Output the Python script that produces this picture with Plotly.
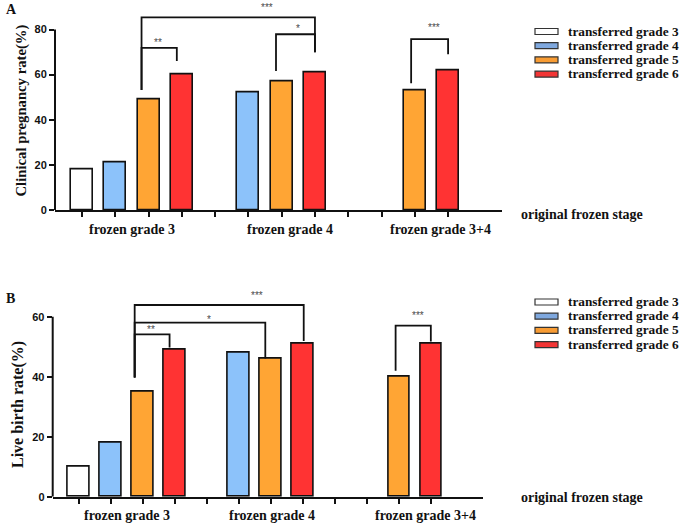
import plotly.graph_objects as go

# ---------------- data ----------------
groups = ["frozen grade 3", "frozen grade 4", "frozen grade 3+4"]
series = ["transferred grade 3", "transferred grade 4", "transferred grade 5", "transferred grade 6"]

cpr_t3 = [18, None, None]
cpr_t4 = [21, 52, None]
cpr_t5 = [49, 57, 53]
cpr_t6 = [60, 61, 62]

lbr_t3 = [10, None, None]
lbr_t4 = [18, 48, None]
lbr_t5 = [35, 46, 40]
lbr_t6 = [49, 51, 51]

yticks_top = [0, 20, 40, 60, 80]
yticks_bot = [0, 20, 40, 60]

# ---------------- style ----------------
bar_colors = ["#ffffff", "#8cc2fa", "#ffa534", "#ff3333"]
legend_colors = ["#ffffff", "#7fa8de", "#f89c34", "#f23535"]
SERIF = "Liberation Serif, Times New Roman, serif"
SANS = "Liberation Sans, Arial, sans-serif"
W, H = 685, 527
FS = 14      # category / axis-end labels
FS_LEG = 13.3

fig = go.Figure()

top_vals = [cpr_t3, cpr_t4, cpr_t5, cpr_t6]
bot_vals = [lbr_t3, lbr_t4, lbr_t5, lbr_t6]
n_s = len(series)

for panel, vals, xa, ya in [(0, top_vals, "x", "y"), (1, bot_vals, "x2", "y2")]:
    for si, s in enumerate(series):
        xs, ys = [], []
        for gi, v in enumerate(vals[si]):
            if v is not None:
                xs.append(gi * n_s + si)
                ys.append(v)
        fig.add_trace(go.Bar(
            x=xs, y=ys, name=s, width=0.66, xaxis=xa, yaxis=ya,
            marker=dict(color=bar_colors[si], line=dict(color="#111111", width=1.6)),
            showlegend=False,
        ))

xr = [-0.81, 12.62]
slot_ticks = list(range(len(groups) * n_s))
common_x = dict(range=xr, tickvals=slot_ticks, showticklabels=False, ticks="outside",
                ticklen=5, tickwidth=1.6, tickcolor="#111", showline=True, linewidth=2,
                linecolor="#111", showgrid=False, zeroline=False, fixedrange=True,
                automargin=False)
common_y = dict(ticks="outside", ticklen=5, tickwidth=2, tickcolor="#111", showline=False,
                showgrid=False, zeroline=False, automargin=False,
                tickfont=dict(family=SANS, size=11, color="#111", weight="bold"))

fig.update_layout(
    width=W, height=H, margin=dict(l=0, r=0, t=0, b=0, autoexpand=False),
    paper_bgcolor="white", plot_bgcolor="white", bargap=0,
    xaxis=dict(domain=[55 / W, 502 / W], anchor="y", **common_x),
    yaxis=dict(domain=[1 - 210 / H, 1 - 2.45 / H], range=[0, 92], tickvals=yticks_top,
               anchor="x", **common_y),
    xaxis2=dict(domain=[52.7 / W, 482.7 / W], anchor="y2", **common_x),
    yaxis2=dict(domain=[1 - 496.7 / H, 1 - 286.7 / H], range=[0, 70], tickvals=yticks_bot,
                anchor="x2", **common_y),
)

shapes = []
annots = []

# y axis lines ending at last tick
shapes.append(dict(type="line", xref="x domain", yref="y", x0=0, x1=0, y0=0, y1=yticks_top[-1],
                   line=dict(color="#111", width=2)))
shapes.append(dict(type="line", xref="x2 domain", yref="y2", x0=0, x1=0, y0=0, y1=yticks_bot[-1],
                   line=dict(color="#111", width=2)))

# significance brackets: (x_left, x_right, y_horizontal, y_left_bottom, y_right_bottom, label, lx, ly)
brackets_top = [
    (1.79, 2.85, 71.9, 53.2, 66.0, "**", 2.28, 74.3),
    (1.79, 7.0, 85.4, 53.2, 69.9, "***", 5.56, 89.6),
    (5.83, 7.0, 77.9, 61.6, 69.9, "*", 6.48, 80.3),
    (9.89, 11.0, 75.7, 56.2, 69.0, "***", 10.58, 81.0),
]
brackets_bot = [
    (1.75, 2.84, 54.1, 39.7, 49.7, "**", 2.27, 55.6),
    (1.75, 5.83, 58.0, 39.7, 46.1, "*", 4.06, 59.1),
    (1.75, 7.03, 63.9, 39.7, 51.9, "***", 5.57, 67.0),
    (9.9, 11.0, 57.0, 42.0, 51.7, "***", 10.6, 60.4),
]
for br, xa, ya in [(brackets_top, "x", "y"), (brackets_bot, "x2", "y2")]:
    for (xl, xrr, yh, ylb, yrb, lab, lx, ly) in br:
        path = f"M {xl},{ylb} L {xl},{yh} L {xrr},{yh} L {xrr},{yrb}"
        shapes.append(dict(type="path", path=path, xref=xa, yref=ya,
                           line=dict(color="#111", width=1.8)))
        annots.append(dict(text=lab, x=lx, y=ly, xref=xa, yref=ya, showarrow=False,
                           font=dict(family=SANS, size=10, color="#4a4a4a"),
                           xanchor="center", yanchor="middle"))

# category labels
cat_top_x = [131.5, 290, 440]
cat_bot_x = [127, 272, 425]
for g, px in zip(groups, cat_top_x):
    annots.append(dict(text=f"<b>{g}</b>", x=px / W, y=1 - 229.5 / H, xref="paper", yref="paper",
                       showarrow=False, font=dict(family=SERIF, size=FS, color="#111"),
                       xanchor="center", yanchor="middle"))
for g, px in zip(groups, cat_bot_x):
    annots.append(dict(text=f"<b>{g}</b>", x=px / W, y=1 - 515 / H, xref="paper", yref="paper",
                       showarrow=False, font=dict(family=SERIF, size=FS, color="#111"),
                       xanchor="center", yanchor="middle"))

# x axis title at right end
for py in [214.5, 497]:
    annots.append(dict(text="<b>original frozen stage</b>", x=519 / W, y=1 - py / H, xref="paper",
                       yref="paper", showarrow=False, font=dict(family=SERIF, size=FS, color="#111"),
                       xanchor="left", yanchor="middle"))

# y axis titles
annots.append(dict(text="<b>Clinical pregnancy rate(%)</b>", x=20.5 / W, y=1 - 111 / H,
                   xref="paper", yref="paper", showarrow=False, textangle=-90,
                   font=dict(family=SERIF, size=14.7, color="#111"), xanchor="center", yanchor="middle"))
annots.append(dict(text="<b>Live birth rate(%)</b>", x=18 / W, y=1 - 405 / H,
                   xref="paper", yref="paper", showarrow=False, textangle=-90,
                   font=dict(family=SERIF, size=16, color="#111"), xanchor="center", yanchor="middle"))

# panel letters
annots.append(dict(text="<b>A</b>", x=4 / W, y=1 - 9 / H, xref="paper", yref="paper", showarrow=False,
                   font=dict(family=SERIF, size=FS, color="#111"), xanchor="left", yanchor="middle"))
annots.append(dict(text="<b>B</b>", x=4 / W, y=1 - 298 / H, xref="paper", yref="paper", showarrow=False,
                   font=dict(family=SERIF, size=FS, color="#111"), xanchor="left", yanchor="middle"))

# manual legends
for y0 in [31.5, 302.0]:
    for i, s in enumerate(series):
        cy = y0 + 14.2 * i
        shapes.append(dict(type="rect", xref="paper", yref="paper",
                           x0=535 / W, x1=558 / W, y0=1 - (cy - 3) / H, y1=1 - (cy + 3) / H,
                           fillcolor=legend_colors[i], line=dict(color="#333", width=1.2)))
        annots.append(dict(text=f"<b>{s}</b>", x=566 / W, y=1 - (cy - 0.5) / H, xref="paper",
                           yref="paper", showarrow=False,
                           font=dict(family=SERIF, size=FS_LEG, color="#111"),
                           xanchor="left", yanchor="middle"))

fig.update_layout(shapes=shapes, annotations=annots)
fig.write_html("out.html", config={"displayModeBar": False},
               post_script="document.body.style.margin='0';document.body.style.overflow='hidden';")
